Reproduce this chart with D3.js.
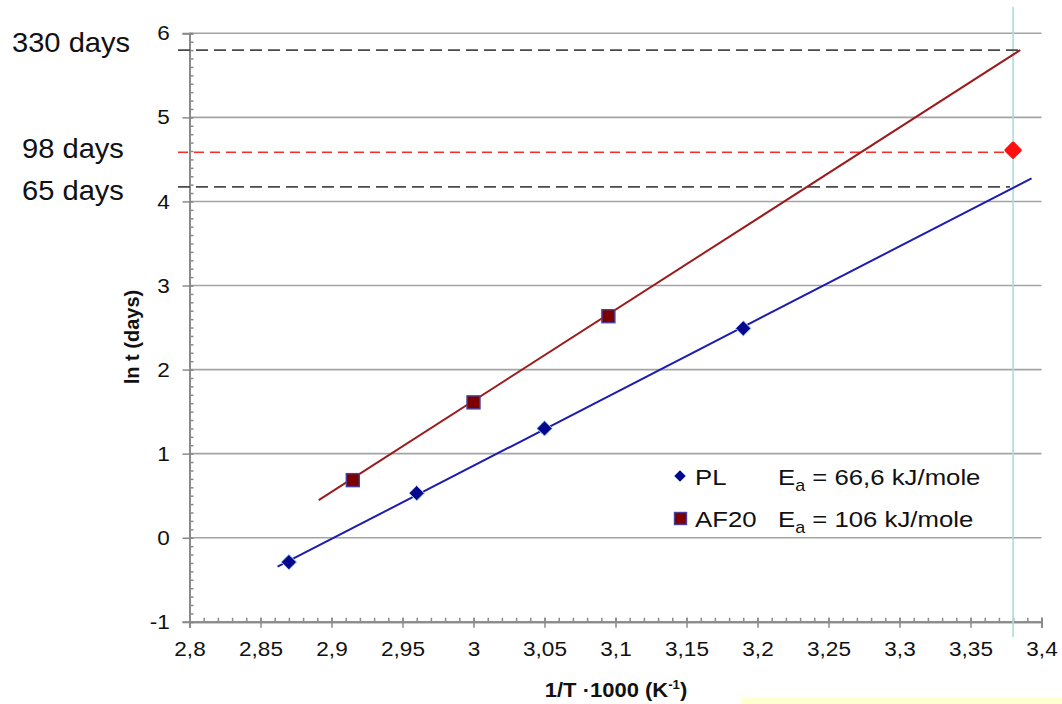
<!DOCTYPE html>
<html>
<head>
<meta charset="utf-8">
<script src="https://cdn.jsdelivr.net/npm/d3@7"></script>
<style>
  html, body { margin: 0; padding: 0; background: #fff; }
  svg { display: block; font-family: "Liberation Sans", Arial, sans-serif; }
</style>
</head>
<body>
<svg id="chart" width="1062" height="704"></svg>
<script>
// Arrhenius plot: ln(time) against reciprocal temperature for two materials.
const xTicks = [2.8, 2.85, 2.9, 2.95, 3.0, 3.05, 3.1, 3.15, 3.2, 3.25, 3.3, 3.35, 3.4];
const yTicks = [-1, 0, 1, 2, 3, 4, 5, 6];

const plX = [2.87, 2.96, 3.05, 3.19];
const plY = [-0.29, 0.53, 1.30, 2.49];
const afX = [2.915, 3.0, 3.095];
const afY = [0.685, 1.61, 2.635];

// fitted trend lines (end points)
const plFit = [[2.862, -0.345], [3.393, 4.275]];
const afFit = [[2.891, 0.448], [3.385, 5.80]];

// reference temperature and predicted lifetimes
const refX = 3.38;
const dayLabels = ["330 days", "98 days", "65 days"];
const dayValues = [330, 98, 65];
const measuredY = 4.61;

const legendNames = ["PL", "AF20"];
const legendEa = ["66,6", "106"];

const svg = d3.select("#chart");
const x = d3.scaleLinear().domain([2.8, 3.4]).range([189.5, 1041.5]);
const y = d3.scaleLinear().domain([-1, 6]).range([621.8, 33.3]);
const SX = 1.1; // slight horizontal stretch applied to text
const fmt = d => String(+d.toFixed(2)).replace(".", ",");

// pale strip along the lower right edge
svg.append("rect").attr("x", 742).attr("y", 698).attr("width", 320).attr("height", 6)
  .attr("fill", "#ffffd2");

// horizontal gridlines
svg.append("g").selectAll("line").data(yTicks.filter(v => v >= 0)).join("line")
  .attr("x1", x(2.8)).attr("x2", x(3.4))
  .attr("y1", d => y(d)).attr("y2", d => y(d))
  .attr("stroke", "#a3a3a3").attr("stroke-width", 1.6);

// minor ticks (every 0.01 on x, every 0.1 on y)
const xMinor = d3.range(0, 61).map(i => 2.8 + i * 0.01);
const yMinor = d3.range(0, 71).map(i => -1 + i * 0.1);

const gxMinor = svg.append("g").attr("transform", `translate(0,${y(-1)})`)
  .call(d3.axisBottom(x).tickValues(xMinor).tickSize(-4).tickFormat(""));
const gyMinor = svg.append("g").attr("transform", `translate(${x(2.8)},0)`)
  .call(d3.axisLeft(y).tickValues(yMinor).tickSize(-4).tickFormat(""));

// major axes
const gx = svg.append("g").attr("transform", `translate(0,${y(-1)})`)
  .call(d3.axisBottom(x).tickValues(xTicks).tickSize(6).tickPadding(14).tickFormat(fmt));
const gy = svg.append("g").attr("transform", `translate(${x(2.8)},0)`)
  .call(d3.axisLeft(y).tickValues(yTicks).tickSize(7).tickPadding(11).tickFormat(d => d));

[gxMinor, gyMinor, gx, gy].forEach(g => {
  g.select(".domain").attr("stroke", "#8a8a8a").attr("stroke-width", 2);
  g.selectAll(".tick line").attr("stroke", "#8a8a8a").attr("stroke-width", 1.5);
});
gx.selectAll(".tick line").attr("y1", -4);
gy.selectAll(".tick line").attr("x2", -7).attr("x1", 3);
gx.selectAll("text").attr("font-size", 20.5).attr("fill", "#111")
  .attr("transform", `scale(${SX},1)`);
gy.selectAll("text").attr("font-size", 20.5).attr("fill", "#111")
  .attr("transform", `scale(${SX},1)`);

// reference temperature marker line
svg.append("line")
  .attr("x1", x(refX)).attr("x2", x(refX)).attr("y1", 7).attr("y2", 637)
  .attr("stroke", "#a9dde3").attr("stroke-width", 1.6);

// lifetime reference lines
const dashEnds = [1020, 1008, 1010];
const dashColor = ["#4a4a4a", "#ff2a2a", "#4a4a4a"];
svg.append("g").selectAll("line").data(dayValues).join("line")
  .attr("x1", 178).attr("x2", (d, i) => dashEnds[i])
  .attr("y1", d => y(Math.log(d))).attr("y2", d => y(Math.log(d)))
  .attr("stroke", (d, i) => dashColor[i])
  .attr("stroke-width", (d, i) => i === 1 ? 1.4 : 1.8)
  .attr("stroke-dasharray", (d, i) => i === 1 ? "10,6" : "12,6");

// lifetime labels
const dayLabelX = [12, 22, 22];
const dayLabelY = [52, 158, 200];
dayLabels.forEach((t, i) => {
  svg.append("text")
    .attr("transform", `translate(${dayLabelX[i]},${dayLabelY[i]}) scale(1.04,1)`)
    .attr("font-size", 28).attr("fill", "#111").text(t);
});

// trend lines
const line = d3.line().x(d => x(d[0])).y(d => y(d[1]));
svg.append("path").datum(plFit).attr("d", line)
  .attr("stroke", "#1c1cb0").attr("stroke-width", 2).attr("fill", "none");
svg.append("path").datum(afFit).attr("d", line)
  .attr("stroke", "#9a1c1c").attr("stroke-width", 2).attr("fill", "none");

// PL markers (diamonds)
const diamond = d3.symbol().type(d3.symbolDiamond2).size(150);
svg.append("g").selectAll("path").data(plX).join("path")
  .attr("d", diamond)
  .attr("transform", (d, i) => `translate(${x(d)},${y(plY[i])})`)
  .attr("fill", "#06068f").attr("stroke", "#a6dcef").attr("stroke-width", 1);

// AF20 markers (squares)
svg.append("g").selectAll("rect").data(afX).join("rect")
  .attr("x", d => x(d) - 6.5).attr("width", 13)
  .attr("y", (d, i) => y(afY[i]) - 6.5).attr("height", 13)
  .attr("fill", "#7d0000").attr("stroke", "#4a3f9e").attr("stroke-width", 1.4);

// measured lifetime point
svg.append("path")
  .attr("d", d3.symbol().type(d3.symbolDiamond2).size(120))
  .attr("transform", `translate(${x(refX)},${y(measuredY)})`)
  .attr("fill", "#ff1010").attr("stroke", "#ff1010").attr("stroke-width", 3.5)
  .attr("stroke-linejoin", "round");

// legend
const legY = [476, 518.5];
const lg = svg.append("g");
lg.append("path").attr("d", d3.symbol().type(d3.symbolDiamond2).size(90))
  .attr("transform", `translate(680,${legY[0]})`)
  .attr("fill", "#06068f").attr("stroke", "#a6dcef").attr("stroke-width", 0.8);
lg.append("rect").attr("x", 674.5).attr("y", legY[1] - 6).attr("width", 12).attr("height", 12)
  .attr("fill", "#7d0000").attr("stroke", "#4a3f9e").attr("stroke-width", 1.4);
legendNames.forEach((n, i) => {
  lg.append("text").attr("transform", `translate(695,${legY[i] + 8.5}) scale(1.12,1)`)
    .attr("font-size", 23).attr("fill", "#111").text(n);
  const t = lg.append("text").attr("transform", `translate(778,${legY[i] + 8.5}) scale(1.12,1)`)
    .attr("font-size", 23).attr("fill", "#111");
  t.append("tspan").text("E");
  t.append("tspan").attr("font-size", 16).attr("dy", 6).text("a");
  t.append("tspan").attr("dy", -6).text(` = ${legendEa[i]} kJ/mole`);
});

// axis titles
const xt = svg.append("text").attr("transform", `translate(616,697) scale(${SX},1)`)
  .attr("text-anchor", "middle").attr("font-size", 20).attr("font-weight", "bold")
  .attr("fill", "#111");
xt.append("tspan").text("1/T \u00b71000 (K");
xt.append("tspan").attr("font-size", 12).attr("dy", -8).text("-1");
xt.append("tspan").attr("dy", 8).text(")");

svg.append("text").attr("transform", "translate(139,337) rotate(-90)")
  .attr("text-anchor", "middle").attr("font-size", 20).attr("font-weight", "bold")
  .attr("fill", "#111").text("ln t (days)");
</script>
</body>
</html>
